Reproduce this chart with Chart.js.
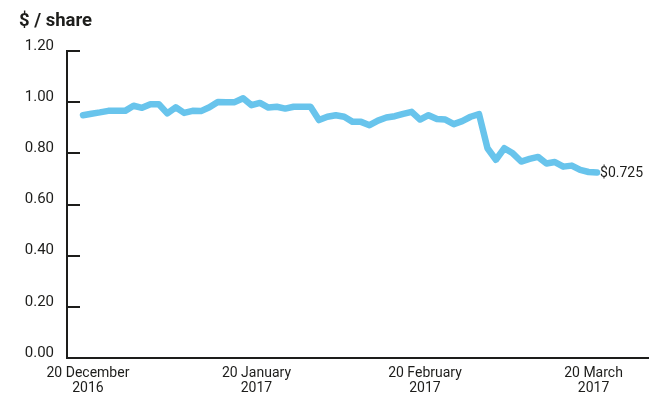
<!DOCTYPE html>
<html>
<head>
<meta charset="utf-8">
<script src="https://cdn.jsdelivr.net/npm/chart.js@4"></script>
<style>
  html, body { margin: 0; padding: 0; background: #fff; }
  #wrap { width: 652px; height: 394px; position: relative; }
</style>
</head>
<body>
<div id="wrap"><canvas id="priceChart"></canvas></div>
<script>
// trading days 19 Dec 2016 .. 20 Mar 2017, index = position on the x axis
const tradingDays = [
    '19 Dec', '20 Dec', '21 Dec', '22 Dec', '23 Dec', '28 Dec', '29 Dec', '30 Dec',
    '3 Jan', '4 Jan', '5 Jan', '6 Jan', '9 Jan', '10 Jan', '11 Jan', '12 Jan', '13 Jan',
    '16 Jan', '17 Jan', '18 Jan', '19 Jan', '20 Jan', '23 Jan', '24 Jan', '25 Jan', '27 Jan',
    '30 Jan', '31 Jan', '1 Feb', '2 Feb', '3 Feb', '6 Feb', '7 Feb', '8 Feb', '9 Feb', '10 Feb',
    '13 Feb', '14 Feb', '15 Feb', '16 Feb', '17 Feb', '20 Feb', '21 Feb', '22 Feb', '23 Feb',
    '24 Feb', '27 Feb', '28 Feb', '1 Mar', '2 Mar', '3 Mar', '6 Mar', '7 Mar', '8 Mar', '9 Mar',
    '10 Mar', '13 Mar', '14 Mar', '15 Mar', '16 Mar', '17 Mar', '20 Mar'
];

const sharePrice = [
    0.949, 0.955, 0.960, 0.966, 0.966, 0.966, 0.986, 0.978, 0.992, 0.992,
    0.956, 0.980, 0.958, 0.966, 0.965, 0.980, 1.001, 1.000, 1.000, 1.015,
    0.988, 0.997, 0.979, 0.982, 0.975, 0.982, 0.982, 0.982, 0.930, 0.943,
    0.949, 0.943, 0.923, 0.923, 0.910, 0.928, 0.940, 0.945, 0.954, 0.962,
    0.932, 0.949, 0.934, 0.932, 0.914, 0.926, 0.943, 0.953, 0.820, 0.775,
    0.820, 0.800, 0.768, 0.778, 0.786, 0.760, 0.766, 0.748, 0.752, 0.735,
    0.727, 0.725
];

// x tick positions (indices into tradingDays) and their labels
const xTickIndex = [1, 21, 41, 61];
const xTickLabels = [
    ['20 December', '2016'],
    ['20 January', '2017'],
    ['20 February', '2017'],
    ['20 March', '2017']
];

const yTicks = [0, 0.2, 0.4, 0.6, 0.8, 1.0, 1.2];
const lastLabel = '$0.725';

const textColor = '#1d1d1b';
const lineColor = '#68c4ec';
const fontFamily = 'Roboto, "Liberation Sans", sans-serif';

// short tick marks drawn inside the plot, to the right of the y axis
const innerTicks = {
    id: 'innerTicks',
    afterDatasetsDraw(chart) {
        const c = chart.ctx;
        const y = chart.scales.y;
        const left = chart.chartArea.left;
        c.save();
        c.strokeStyle = textColor;
        c.lineWidth = 2;
        yTicks.forEach(v => {
            const py = Math.round(y.getPixelForValue(v));
            c.beginPath();
            c.moveTo(left, py);
            c.lineTo(left + 13, py);
            c.stroke();
        });

        // end value label
        const meta = chart.getDatasetMeta(0);
        const pt = meta.data[meta.data.length - 1];
        c.fillStyle = textColor;
        c.font = '14px ' + fontFamily;
        c.textAlign = 'left';
        c.textBaseline = 'middle';
        c.fillText(lastLabel, pt.x + 3, pt.y + 1);

        // unit title
        c.font = 'bold 18.5px ' + fontFamily;
        c.textBaseline = 'middle';
        c.fillText('$ / share', 19, 21);
        c.restore();
    }
};

const ctx = document.getElementById('priceChart').getContext('2d');
const priceChart = new Chart(ctx, {
    type: 'line',
    data: {
        datasets: [{
            label: 'Share price',
            data: sharePrice.map((v, i) => ({ x: i, y: v })),
            borderColor: lineColor,
            borderWidth: 6.5,
            borderJoinStyle: 'round',
            borderCapStyle: 'round',
            pointRadius: 0,
            tension: 0,
            fill: false
        }]
    },
    options: {
        responsive: true,
        maintainAspectRatio: false,
        animation: false,
        layout: { padding: { top: 51, right: 4, left: 0, bottom: 0 } },
        plugins: {
            legend: { display: false },
            tooltip: { enabled: false }
        },
        scales: {
            x: {
                type: 'linear',
                min: -1.9,
                max: 67.05,
                grid: { display: false, drawTicks: false, tickLength: 0 },
                border: { display: true, color: textColor, width: 2 },
                afterBuildTicks: scale => {
                    scale.ticks = xTickIndex.map(v => ({ value: v }));
                },
                afterFit: scale => { scale.height = 36; },
                ticks: {
                    autoSkip: false,
                    maxRotation: 0,
                    padding: 8,
                    labelOffset: -3.5,
                    color: textColor,
                    font: { family: fontFamily, size: 14, lineHeight: 1.07 },
                    callback: (value) => xTickLabels[xTickIndex.indexOf(value)]
                }
            },
            y: {
                min: 0,
                max: 1.2,
                grid: { display: false, drawTicks: false, tickLength: 0 },
                border: { display: true, color: textColor, width: 2 },
                afterBuildTicks: scale => {
                    scale.ticks = yTicks.map(v => ({ value: v }));
                },
                afterFit: scale => { scale.width = 67; },
                ticks: {
                    padding: 13,
                    labelOffset: -5,
                    color: textColor,
                    font: { family: fontFamily, size: 15 },
                    callback: value => value.toFixed(2)
                }
            }
        }
    },
    plugins: [innerTicks]
});
</script>
</body>
</html>
